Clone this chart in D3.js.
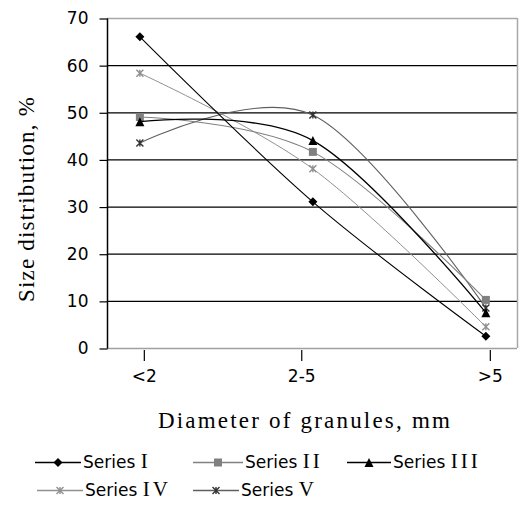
<!DOCTYPE html>
<html>
<head>
<meta charset="utf-8">
<script src="https://cdn.jsdelivr.net/npm/d3@7"></script>
<style>
  html, body { margin: 0; padding: 0; background: #fff; }
  svg { display: block; }
</style>
</head>
<body>
<svg id="chart" width="519" height="506"></svg>
<script>
// ---- data ----
const categories = ["<2", "2-5", ">5"];
const pointX = [1, 2, 3];                 // x position of the data points
const tickX = [1.02, 1.93, 3.02];         // x position of the category ticks/labels
const yTicks = [0, 10, 20, 30, 40, 50, 60, 70];
const seriesNames = ["I", "II", "III", "IV", "V"];
const seriesI   = [66, 31, 2.5];
const seriesII  = [49, 41.6, 10.2];
const seriesIII = [48, 44, 7.5];
const seriesIV  = [58.3, 38, 4.5];
const seriesV   = [43.5, 49.4, 8.5];
const seriesValues = [seriesI, seriesII, seriesIII, seriesIV, seriesV];

// ---- styles ----
const SANS = "'DejaVu Sans', Verdana, sans-serif";
const SERIF = "'Liberation Serif', 'Times New Roman', serif";
const styles = [
  { stroke: "#000", width: 1.1, marker: "diamond", fill: "#000", size: 9 },
  { stroke: "#808080", width: 1.1, marker: "square", fill: "#808080", size: 8 },
  { stroke: "#000", width: 1.3, marker: "triangle", fill: "#000", size: 9 },
  { stroke: "#909090", width: 1, marker: "star", fill: "#909090", size: 7 },
  { stroke: "#606060", width: 1.1, marker: "star", fill: "#333", size: 7 }
];

const svg = d3.select("#chart");
const L = 107, R = 517, T = 18, B = 348;

const x = d3.scaleLinear().domain([0.81, 3.18]).range([L, R]);
const y = d3.scaleLinear().domain([0, 70]).range([B, T]);

// gridlines
svg.append("g").selectAll("line").data(yTicks.filter(d => d > 0 && d < 70)).join("line")
  .attr("x1", L).attr("x2", R).attr("y1", d => y(d) + 0.5).attr("y2", d => y(d) + 0.5)
  .attr("stroke", "#000").attr("stroke-width", 1.2);

// plot border (top, right, bottom) gray
svg.append("line").attr("x1", L).attr("x2", R).attr("y1", y(70) + 0.5).attr("y2", y(70) + 0.5)
  .attr("stroke", "#a8a8a8").attr("stroke-width", 1.5);
svg.append("line").attr("x1", R + 0.5).attr("x2", R + 0.5).attr("y1", T).attr("y2", B)
  .attr("stroke", "#a8a8a8").attr("stroke-width", 1.5);
svg.append("line").attr("x1", L).attr("x2", R).attr("y1", B + 0.5).attr("y2", B + 0.5)
  .attr("stroke", "#a0a0a0").attr("stroke-width", 1.5);

// y axis
const yAxis = d3.axisLeft(y).tickValues(yTicks).tickSize(8).tickPadding(11).tickFormat(d3.format("d"));
const gy = svg.append("g").attr("transform", `translate(${L + 0.5},0.5)`).call(yAxis);
gy.select(".domain").attr("stroke", "#000").attr("stroke-width", 1.5).attr("d", `M0,${T}V${B}`);
gy.selectAll(".tick line").attr("stroke", "#000").attr("stroke-width", 1.2);
gy.selectAll(".tick text").attr("font-family", SANS).attr("font-size", 17).attr("fill", "#000");

// x axis ticks
const xAxis = d3.axisBottom(x).tickValues(tickX).tickSize(11)
  .tickFormat((d, i) => categories[i]).tickPadding(9);
const gx = svg.append("g").attr("transform", `translate(0.5,${B + 2})`).call(xAxis);
gx.select(".domain").remove();
gx.selectAll(".tick line").attr("stroke", "#000").attr("stroke-width", 1.2);
gx.selectAll(".tick text").attr("font-family", SANS).attr("font-size", 17).attr("fill", "#000");

// axis titles
svg.append("text").attr("transform", `translate(34,199) rotate(-90)`)
  .attr("text-anchor", "middle").attr("font-family", SERIF)
  .attr("font-size", 23).attr("letter-spacing", 1.2).text("Size distribution, %");
svg.append("text").attr("x", 305).attr("y", 428)
  .attr("text-anchor", "middle").attr("font-family", SERIF)
  .attr("font-size", 23).attr("letter-spacing", 2.2).text("Diameter of granules, mm");

// markers
function drawMarker(g, type, cx, cy, st) {
  const s = st.size;
  if (type === "diamond") {
    g.append("path").attr("d", `M${cx},${cy - s / 2}L${cx + s / 2},${cy}L${cx},${cy + s / 2}L${cx - s / 2},${cy}Z`)
      .attr("fill", st.fill);
  } else if (type === "square") {
    g.append("rect").attr("x", cx - s / 2).attr("y", cy - s / 2).attr("width", s).attr("height", s)
      .attr("fill", st.fill);
  } else if (type === "triangle") {
    g.append("path").attr("d", `M${cx},${cy - s / 2}L${cx + s / 2},${cy + s / 2}L${cx - s / 2},${cy + s / 2}Z`)
      .attr("fill", st.fill);
  } else if (type === "star") {
    const h = s / 2;
    g.append("path").attr("d",
      `M${cx - h},${cy - h}L${cx + h},${cy + h}M${cx - h},${cy + h}L${cx + h},${cy - h}M${cx},${cy - h}L${cx},${cy + h}`)
      .attr("stroke", st.fill).attr("stroke-width", 1.4).attr("fill", "none");
  }
}

// series lines
const line = d3.line().x(d => x(d[0])).y(d => y(d[1])).curve(d3.curveCardinal.tension(0));
const drawOrder = [4, 3, 1, 2, 0];
drawOrder.forEach(si => {
  const vals = seriesValues[si];
  const st = styles[si];
  const pts = vals.map((v, i) => [pointX[i], v]);
  const g = svg.append("g");
  g.append("path").attr("d", line(pts)).attr("fill", "none")
    .attr("stroke", st.stroke).attr("stroke-width", st.width);
  pts.forEach(p => drawMarker(g, st.marker, x(p[0]), y(p[1]), st));
});

// legend
const legendPos = [
  { lx: 35, tx: 83, y: 462 },
  { lx: 193, tx: 245, y: 462 },
  { lx: 347, tx: 393, y: 462 },
  { lx: 37, tx: 85, y: 490 },
  { lx: 193, tx: 241, y: 490 }
];
seriesNames.forEach((name, i) => {
  const p = legendPos[i];
  const st = styles[i];
  const g = svg.append("g");
  const lw = p.tx - p.lx - 2;
  g.append("line").attr("x1", p.lx).attr("x2", p.lx + lw).attr("y1", p.y + 0.5).attr("y2", p.y + 0.5)
    .attr("stroke", st.stroke).attr("stroke-width", i === 2 ? 1.6 : 1.3);
  drawMarker(g, st.marker, p.lx + lw / 2, p.y + 0.5, st);
  const t = g.append("text").attr("x", p.tx).attr("y", p.y + 6).attr("font-size", 17).attr("fill", "#000");
  t.append("tspan").attr("font-family", SANS).text("Series ");
  t.append("tspan").attr("font-family", SERIF).attr("font-size", 21).attr("letter-spacing", 3).text(name);
});
</script>
</body>
</html>
